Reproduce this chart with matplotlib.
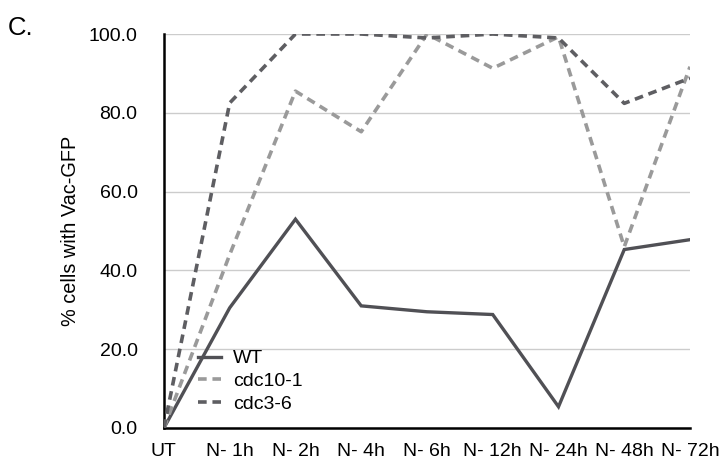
import matplotlib
matplotlib.use("Agg")
import matplotlib.pyplot as plt

categories = ["UT", "N- 1h", "N- 2h", "N- 4h", "N- 6h", "N- 12h", "N- 24h", "N- 48h", "N- 72h"]
wt = [0.0, 30.5, 53.0, 31.0, 29.5, 28.8, 5.4, 45.3, 47.8]
cdc10_1 = [0.0, 44.0, 85.5, 75.2, 100.0, 91.3, 99.3, 46.0, 91.7]
cdc3_6 = [0.0, 82.5, 100.0, 100.0, 99.0, 100.0, 99.0, 82.4, 88.8]
yticks = [0.0, 20.0, 40.0, 60.0, 80.0, 100.0]

plt.rcParams['font.family'] = ['Liberation Sans', 'DejaVu Sans']

fig = plt.figure(figsize=(7.19, 4.61), dpi=100)
ax = fig.add_axes([0.228, 0.0716, 0.9597 - 0.228, 0.9262 - 0.0716])

x = list(range(len(categories)))
ax.plot(x, wt, color='#505055', lw=2.4, solid_joinstyle='miter', label='WT', zorder=3)
ax.plot(x, cdc10_1, color='#9a9a9a', lw=2.6, linestyle=(0, (2.4, 1.6)), label='cdc10-1', zorder=3)
ax.plot(x, cdc3_6, color='#5e5e62', lw=2.6, linestyle=(0, (2.4, 1.6)), label='cdc3-6', zorder=3)

ax.set_xlim(0, len(categories) - 1)
ax.set_ylim(0, 100)
ax.set_xticks(x)
ax.set_xticklabels(categories, fontsize=14)
ax.set_yticks(yticks)
ax.set_yticklabels([f"{v:.1f}" for v in yticks], fontsize=14)
ax.tick_params(axis='both', length=0)
ax.tick_params(axis='y', pad=19)
ax.tick_params(axis='x', pad=11)

ax.grid(axis='y', color='#cccccc', lw=1.0)
ax.set_axisbelow(True)
for s in ['top', 'right']:
    ax.spines[s].set_visible(False)
ax.spines['left'].set_linewidth(1.8)
ax.spines['bottom'].set_linewidth(1.8)
ax.spines['left'].set_color('black')
ax.spines['bottom'].set_color('black')

ax.set_ylabel('% cells with Vac-GFP', fontsize=14.3)
ax.yaxis.set_label_coords(-0.16, 0.5)

leg = ax.legend(loc='lower left', bbox_to_anchor=(0.05, 0.018), frameon=False,
                fontsize=14, handlelength=1.2, handletextpad=0.6, labelspacing=0.27,
                borderaxespad=0)

fig.text(0.011, 0.925, 'C.', fontsize=18.5, ha='left', va='baseline')

fig.savefig('out.png', dpi=100)
